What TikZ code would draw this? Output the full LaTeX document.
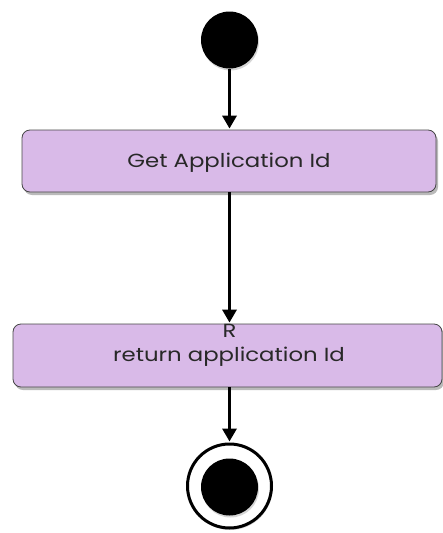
\documentclass[tikz,border=0pt]{standalone}
\usepackage{fontspec}
\setmainfont{Poppins}[FakeStretch=1.2]
\usetikzlibrary{arrows.meta,shadows}
\definecolor{boxfill}{RGB}{217,186,232}
\definecolor{boxline}{RGB}{70,70,70}
\definecolor{txt}{RGB}{40,40,40}
\begin{document}
\begin{tikzpicture}[x=1pt,y=-1pt,
  lbl/.style={font=\fontsize{19}{22}\selectfont, text=txt, inner sep=0pt},
  actbox/.style={draw=boxline, line width=0.8pt, fill=boxfill, rounded corners=8pt,
    drop shadow={shadow xshift=2pt, shadow yshift=-3pt, fill=black!45, opacity=0.6}},
  arr/.style={line width=3.5pt, -{Triangle[width=14pt,length=13pt]}, shorten >=1pt},
  dot/.style={circle, fill=black, inner sep=0pt,
    drop shadow={shadow xshift=1pt, shadow yshift=-2pt, fill=black!40, opacity=0.4}}]
\useasboundingbox (0,0) rectangle (443,533);
\node[dot, minimum size=57pt] (start) at (229.5,40) {};
\node[actbox, minimum width=414pt, minimum height=62pt] (b1) at (229,161) {};
\node[lbl] (t1) at (229,163) {Get Application Id};
\node[actbox, minimum width=429pt, minimum height=63pt] (b2) at (227.5,355.5) {};
\node[lbl] (t2) at (229,357) {return application Id};
\node[lbl] (r) at (229.5,331) {R};
\node[circle, draw=black, line width=3pt, fill=white, minimum size=84pt, inner sep=0pt,
  drop shadow={shadow xshift=1pt, shadow yshift=-2pt, fill=black!40, opacity=0.4}] (endo) at (229.5,486) {};
\node[dot, minimum size=57pt] (endi) at (229.5,487) {};
\draw[arr] (start.south) -- (b1.north -| start.south);
\draw[arr] (b1.south -| start.south) -- (b2.north -| start.south);
\draw[arr] (b2.south -| start.south) -- (endo.north);
\end{tikzpicture}
\end{document}
